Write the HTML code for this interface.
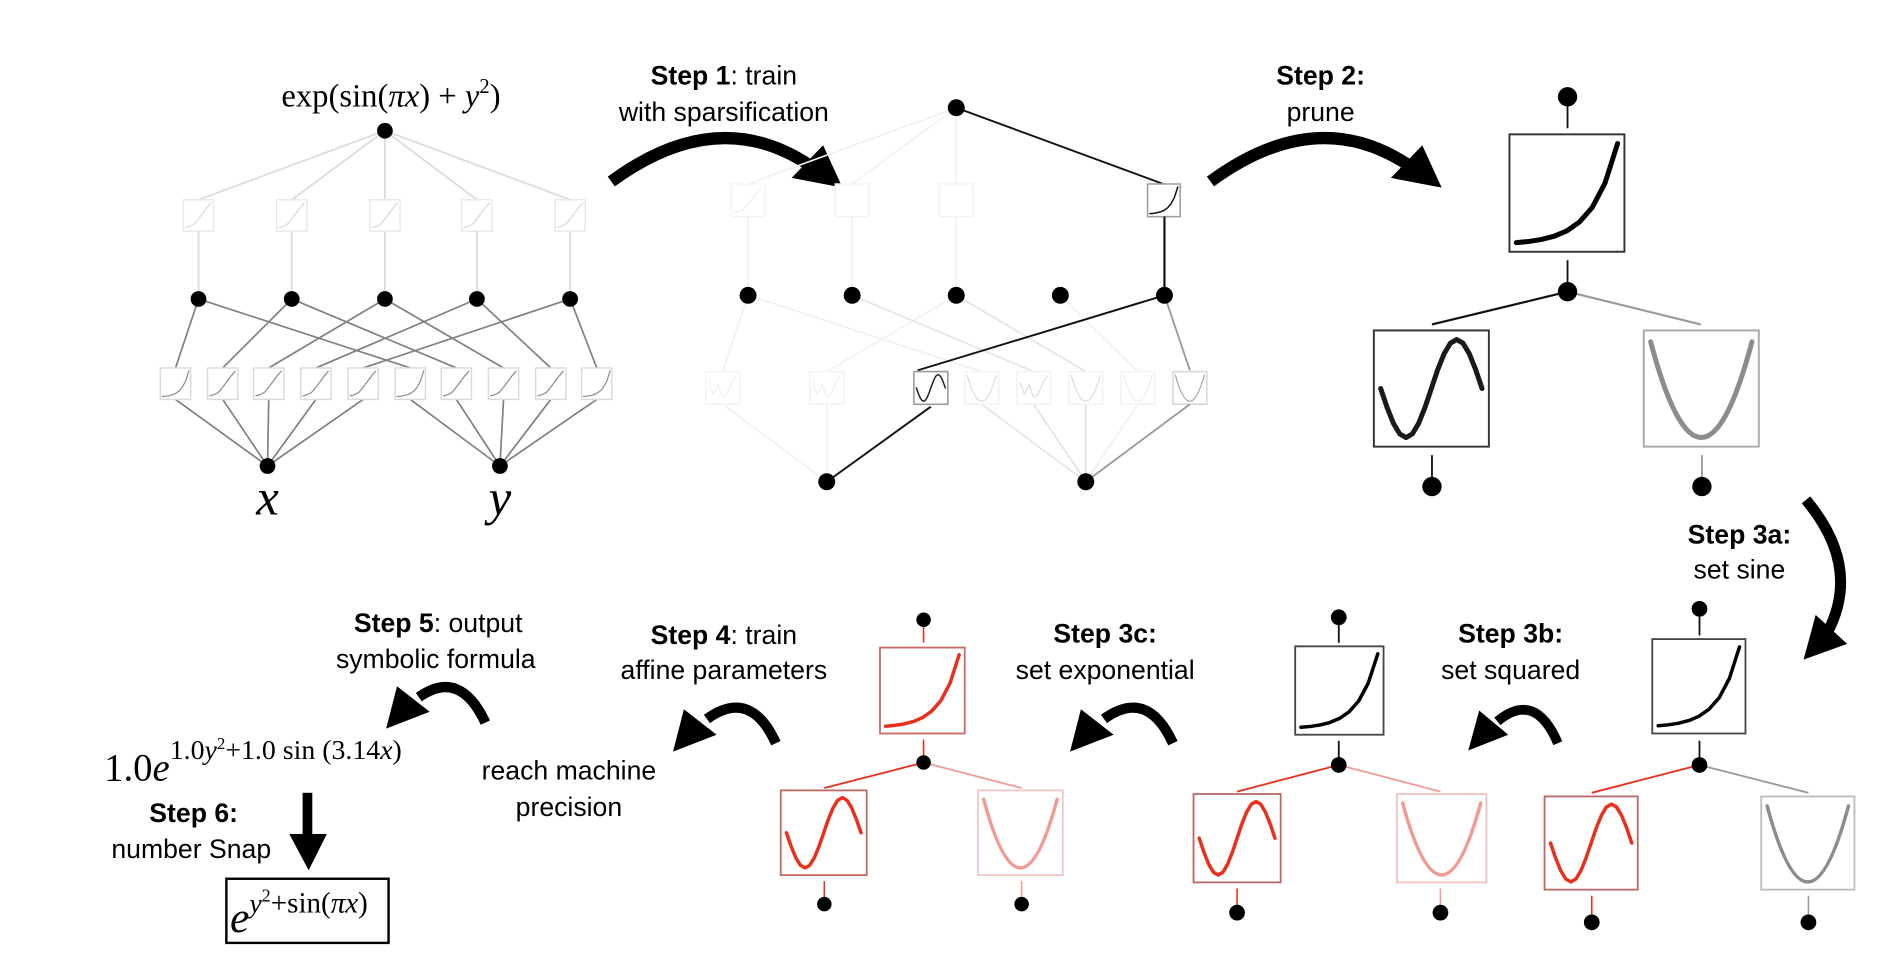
<!DOCTYPE html>
<html><head><meta charset="utf-8"><style>
html,body{margin:0;padding:0;background:#fff;}
svg{display:block;}
.t{font-family:"Liberation Sans",Arial,sans-serif;font-size:22px;fill:#000;text-anchor:middle;}
.b{font-weight:bold;}
.m{font-family:"Liberation Serif","Times New Roman",serif;fill:#000;}
</style></head><body>
<svg width="1898" height="978" viewBox="0 0 1568 808" preserveAspectRatio="none" xmlns="http://www.w3.org/2000/svg">
<defs>
<symbol id="exp" viewBox="0 0 100 100" preserveAspectRatio="none"><polyline vector-effect="non-scaling-stroke" fill="none" stroke-linecap="round" stroke-linejoin="round" points="4,94 15.5,93 27,91.2 38.5,88.3 50,83.5 61.5,75.6 73,62.7 84.5,41.3 96,6"/></symbol>
<symbol id="lin" viewBox="0 0 100 100" preserveAspectRatio="none"><polyline vector-effect="non-scaling-stroke" fill="none" points="4,92 20,88 35,80 50,62 65,42 80,22 94,6"/></symbol>
<symbol id="sin" viewBox="0 0 100 100" preserveAspectRatio="none"><polyline vector-effect="non-scaling-stroke" fill="none" stroke-linecap="round" stroke-linejoin="round" points="4,50 9.75,66.9 15.5,81.1 21.25,90.7 27,94 32.75,90.7 38.5,81.1 44.25,66.9 50,50 55.75,33.1 61.5,18.9 67.25,9.3 73,6 78.75,9.3 84.5,18.9 90.25,33.1 96,50"/></symbol>
<symbol id="par" viewBox="0 0 100 100" preserveAspectRatio="none"><path vector-effect="non-scaling-stroke" fill="none" stroke-linecap="round" d="M4,8 Q50,180 96,8"/></symbol>
<symbol id="wig" viewBox="0 0 100 100" preserveAspectRatio="none"><polyline vector-effect="non-scaling-stroke" fill="none" points="6,30 20,70 35,40 50,80 65,70 80,30 94,10"/></symbol>
</defs>

<!-- ===== Panel 1 ===== -->
<text class="m" x="323" y="88" font-size="27" text-anchor="middle">exp(sin(<tspan font-style="italic">πx</tspan>) + <tspan font-style="italic">y</tspan><tspan font-size="17" dy="-11">2</tspan><tspan dy="11">)</tspan></text>
<g stroke="#dcdcdc" stroke-width="1.5">
<line x1="318" y1="108" x2="164" y2="165"/><line x1="318" y1="108" x2="241" y2="165"/><line x1="318" y1="108" x2="318" y2="165"/><line x1="318" y1="108" x2="394" y2="165"/><line x1="318" y1="108" x2="471" y2="165"/>
<line x1="164" y1="191" x2="164" y2="247"/><line x1="241" y1="191" x2="241" y2="247"/><line x1="318" y1="191" x2="318" y2="247"/><line x1="394" y1="191" x2="394" y2="247"/><line x1="471" y1="191" x2="471" y2="247"/>
</g>
<g fill="#fff" stroke="#e8e8e8" stroke-width="1.2">
<rect x="151.5" y="165" width="25" height="26"/><rect x="228.5" y="165" width="25" height="26"/><rect x="305.5" y="165" width="25" height="26"/><rect x="381.5" y="165" width="25" height="26"/><rect x="458.5" y="165" width="25" height="26"/>
</g>
<g stroke="#d8d8d8" stroke-width="1.2">
<use href="#lin" x="152" y="166" width="24" height="24"/><use href="#lin" x="229" y="166" width="24" height="24"/><use href="#lin" x="306" y="166" width="24" height="24"/><use href="#lin" x="382" y="166" width="24" height="24"/><use href="#lin" x="459" y="166" width="24" height="24"/>
</g>
<g stroke="#808080" stroke-width="1.4">
<line x1="164" y1="247" x2="145" y2="304"/><line x1="164" y1="247" x2="339" y2="304"/>
<line x1="241" y1="247" x2="184" y2="304"/><line x1="241" y1="247" x2="377" y2="304"/>
<line x1="318" y1="247" x2="222" y2="304"/><line x1="318" y1="247" x2="416" y2="304"/>
<line x1="394" y1="247" x2="261" y2="304"/><line x1="394" y1="247" x2="455" y2="304"/>
<line x1="471" y1="247" x2="300" y2="304"/><line x1="471" y1="247" x2="493" y2="304"/>
<line x1="145" y1="330" x2="221" y2="385"/><line x1="184" y1="330" x2="221" y2="385"/><line x1="222" y1="330" x2="221" y2="385"/><line x1="261" y1="330" x2="221" y2="385"/><line x1="300" y1="330" x2="221" y2="385"/>
<line x1="339" y1="330" x2="413" y2="385"/><line x1="377" y1="330" x2="413" y2="385"/><line x1="416" y1="330" x2="413" y2="385"/><line x1="455" y1="330" x2="413" y2="385"/><line x1="493" y1="330" x2="413" y2="385"/>
</g>
<g fill="#fff" stroke="#dadada" stroke-width="1.2">
<rect x="132.5" y="304" width="25" height="26"/><rect x="171.5" y="304" width="25" height="26"/><rect x="209.5" y="304" width="25" height="26"/><rect x="248.5" y="304" width="25" height="26"/><rect x="287.5" y="304" width="25" height="26"/>
<rect x="326.5" y="304" width="25" height="26"/><rect x="364.5" y="304" width="25" height="26"/><rect x="403.5" y="304" width="25" height="26"/><rect x="442.5" y="304" width="25" height="26"/><rect x="480.5" y="304" width="25" height="26"/>
</g>
<g stroke="#8a8a8a" stroke-width="1.2">
<use href="#exp" x="133" y="305" width="24" height="24"/><use href="#lin" x="172" y="305" width="24" height="24"/><use href="#lin" x="210" y="305" width="24" height="24"/><use href="#lin" x="249" y="305" width="24" height="24"/><use href="#lin" x="288" y="305" width="24" height="24"/>
<use href="#exp" x="327" y="305" width="24" height="24"/><use href="#lin" x="365" y="305" width="24" height="24"/><use href="#lin" x="404" y="305" width="24" height="24"/><use href="#lin" x="443" y="305" width="24" height="24"/><use href="#exp" x="481" y="305" width="24" height="24"/>
</g>
<g fill="#000">
<circle cx="318" cy="108" r="6.5"/>
<circle cx="164" cy="247" r="6.5"/><circle cx="241" cy="247" r="6.5"/><circle cx="318" cy="247" r="6.5"/><circle cx="394" cy="247" r="6.5"/><circle cx="471" cy="247" r="6.5"/>
<circle cx="221" cy="385" r="6.5"/><circle cx="413" cy="385" r="6.5"/>
</g>
<text class="m" x="221" y="425" font-size="42" font-style="italic" text-anchor="middle">x</text>
<text class="m" x="413" y="425" font-size="42" font-style="italic" text-anchor="middle">y</text>

<!-- Step 1 -->
<text class="t" x="598" y="70"><tspan class="b">Step 1</tspan>: train</text>
<text class="t" x="598" y="100">with sparsification</text>
<path d="M505,150 Q592,86 668,136" fill="none" stroke="#000" stroke-width="10"/>
<polygon points="696,155 680,120 654,147" fill="#000"/>

<!-- ===== Panel 2 ===== -->
<g stroke="#f0f0f0" stroke-width="1.3">
<line x1="790" y1="89" x2="618" y2="152"/><line x1="790" y1="89" x2="704" y2="152"/><line x1="790" y1="89" x2="790" y2="152"/>
<line x1="618" y1="179" x2="618" y2="244"/><line x1="704" y1="179" x2="704" y2="244"/><line x1="790" y1="179" x2="790" y2="244"/>
<line x1="618" y1="244" x2="597" y2="307"/><line x1="618" y1="244" x2="811" y2="307"/>
<line x1="790" y1="244" x2="683" y2="307"/><line x1="876" y1="244" x2="940" y2="307"/>
<line x1="597" y1="334" x2="683" y2="398"/><line x1="683" y1="334" x2="683" y2="398"/>
<line x1="940" y1="334" x2="897" y2="398"/>
</g>
<g stroke="#e2e2e2" stroke-width="1.3">
<line x1="704" y1="244" x2="854" y2="307"/><line x1="790" y1="244" x2="897" y2="307"/>
<line x1="811" y1="334" x2="897" y2="398"/><line x1="854" y1="334" x2="897" y2="398"/><line x1="897" y1="334" x2="897" y2="398"/>
</g>
<g fill="#fff" stroke="#f2f2f2" stroke-width="1.2">
<rect x="604" y="152" width="28" height="27"/><rect x="690" y="152" width="28" height="27"/><rect x="776" y="152" width="28" height="27"/>
<rect x="583" y="307" width="28" height="27"/><rect x="669" y="307" width="28" height="27"/>
<rect x="797" y="307" width="28" height="27"/><rect x="840" y="307" width="28" height="27"/><rect x="883" y="307" width="28" height="27"/><rect x="926" y="307" width="28" height="27"/>
</g>
<g stroke="#eeeeee" stroke-width="1.2">
<use href="#lin" x="605" y="153" width="26" height="25"/><use href="#wig" x="584" y="308" width="26" height="25"/><use href="#wig" x="670" y="308" width="26" height="25"/><use href="#par" x="927" y="308" width="26" height="25"/>
</g>
<g stroke="#dcdcdc" stroke-width="1.2">
<use href="#par" x="798" y="308" width="26" height="25"/><use href="#wig" x="841" y="308" width="26" height="25"/><use href="#par" x="884" y="308" width="26" height="25"/>
</g>
<line x1="790" y1="89" x2="961" y2="152" stroke="#111" stroke-width="1.6"/>
<rect x="948" y="152" width="27" height="27" fill="#fff" stroke="#a0a0a0" stroke-width="1.3"/>
<use href="#exp" x="949" y="153" width="25" height="25" stroke="#111" stroke-width="1.5"/>
<line x1="962" y1="179" x2="962" y2="244" stroke="#111" stroke-width="1.8"/>
<line x1="962" y1="244" x2="758" y2="306" stroke="#111" stroke-width="1.6"/>
<rect x="755" y="307" width="28" height="27" fill="#fff" stroke="#999" stroke-width="1.3"/>
<use href="#sin" x="756" y="308" width="26" height="25" stroke="#222" stroke-width="1.5"/>
<line x1="769" y1="336" x2="683" y2="398" stroke="#111" stroke-width="1.6"/>
<line x1="962" y1="244" x2="983" y2="306" stroke="#999" stroke-width="1.5"/>
<rect x="969" y="307" width="28" height="27" fill="#fff" stroke="#d4d4d4" stroke-width="1.2"/>
<use href="#par" x="970" y="308" width="26" height="25" stroke="#aaa" stroke-width="1.3"/>
<line x1="983" y1="334" x2="897" y2="398" stroke="#999" stroke-width="1.5"/>
<g fill="#000">
<circle cx="790" cy="89" r="7"/>
<circle cx="618" cy="244" r="7"/><circle cx="704" cy="244" r="7"/><circle cx="790" cy="244" r="7"/><circle cx="876" cy="244" r="7"/><circle cx="962" cy="244" r="7"/>
<circle cx="683" cy="398" r="7"/><circle cx="897" cy="398" r="7"/>
</g>

<!-- Step 2 -->
<text class="t b" x="1091" y="70">Step 2:</text>
<text class="t" x="1091" y="100">prune</text>
<path d="M1000,150 Q1087,86 1163,136" fill="none" stroke="#000" stroke-width="10"/>
<polygon points="1191,155 1175,120 1149,147" fill="#000"/>

<!-- ===== Panel 3 ===== -->
<line x1="1295" y1="80" x2="1295" y2="106" stroke="#111" stroke-width="1.5"/>
<rect x="1247" y="111" width="95" height="97" fill="#fff" stroke="#333" stroke-width="1.6"/>
<use href="#exp" x="1249" y="113" width="91" height="93" stroke="#000" stroke-width="5"/>
<line x1="1295" y1="215" x2="1295" y2="241" stroke="#111" stroke-width="1.5"/>
<line x1="1295" y1="241" x2="1183" y2="268" stroke="#111" stroke-width="1.8"/>
<line x1="1295" y1="241" x2="1405" y2="268" stroke="#999" stroke-width="1.8"/>
<rect x="1135" y="273" width="95" height="96" fill="#fff" stroke="#333" stroke-width="1.6"/>
<use href="#sin" x="1137" y="275" width="91" height="92" stroke="#1a1a1a" stroke-width="5"/>
<rect x="1358" y="273" width="95" height="96" fill="#fff" stroke="#aaa" stroke-width="1.6"/>
<use href="#par" x="1360" y="275" width="91" height="92" stroke="#8c8c8c" stroke-width="5"/>
<line x1="1183" y1="376" x2="1183" y2="402" stroke="#111" stroke-width="1.5"/>
<line x1="1406" y1="376" x2="1406" y2="402" stroke="#999" stroke-width="1.5"/>
<g fill="#000"><circle cx="1295" cy="80" r="8"/><circle cx="1295" cy="241" r="8"/><circle cx="1183" cy="402" r="8"/><circle cx="1406" cy="402" r="8"/></g>

<!-- Step 3a -->
<text class="t b" x="1437" y="449">Step 3a:</text>
<text class="t" x="1437" y="478">set sine</text>
<path d="M1492,413 Q1538,468 1510,522" fill="none" stroke="#000" stroke-width="9"/>
<polygon points="1490,545 1500,508 1526,532" fill="#000"/>

<!-- ===== Panel A (bottom right) ===== -->
<line x1="1404" y1="503" x2="1404" y2="525" stroke="#111" stroke-width="1.5"/>
<rect x="1365" y="528" width="77" height="78" fill="#fff" stroke="#444" stroke-width="1.5"/>
<use href="#exp" x="1367" y="530" width="73" height="74" stroke="#000" stroke-width="3.5"/>
<line x1="1404" y1="612" x2="1404" y2="632" stroke="#111" stroke-width="1.5"/>
<line x1="1404" y1="632" x2="1315" y2="655" stroke="#e8301c" stroke-width="1.5"/>
<line x1="1404" y1="632" x2="1494" y2="655" stroke="#999" stroke-width="1.5"/>
<rect x="1276" y="658" width="77" height="77" fill="#fff" stroke="#b86a66" stroke-width="1.5"/>
<use href="#sin" x="1278" y="660" width="73" height="73" stroke="#e8301c" stroke-width="3.5"/>
<rect x="1455" y="658" width="77" height="77" fill="#fff" stroke="#bbb" stroke-width="1.5"/>
<use href="#par" x="1457" y="660" width="73" height="73" stroke="#8c8c8c" stroke-width="3.5"/>
<line x1="1315" y1="740" x2="1315" y2="762" stroke="#e8301c" stroke-width="1.3"/>
<line x1="1494" y1="740" x2="1494" y2="762" stroke="#999" stroke-width="1.3"/>
<g fill="#000"><circle cx="1404" cy="503" r="6.5"/><circle cx="1404" cy="632" r="6.5"/><circle cx="1315" cy="762" r="6.5"/><circle cx="1494" cy="762" r="6.5"/></g>

<!-- Step 3b -->
<text class="t b" x="1248" y="531">Step 3b:</text>
<text class="t" x="1248" y="561">set squared</text>
<path d="M1287,614 Q1268,570 1237,596" fill="none" stroke="#000" stroke-width="8"/>
<polygon points="1213,620 1222,587 1246,607" fill="#000"/>

<!-- ===== Panel B ===== -->
<line x1="1106" y1="510" x2="1106" y2="531" stroke="#111" stroke-width="1.5"/>
<rect x="1070" y="534" width="73" height="73" fill="#fff" stroke="#444" stroke-width="1.5"/>
<use href="#exp" x="1072" y="536" width="69" height="69" stroke="#000" stroke-width="3.5"/>
<line x1="1106" y1="612" x2="1106" y2="632" stroke="#111" stroke-width="1.5"/>
<line x1="1106" y1="632" x2="1022" y2="654" stroke="#e8301c" stroke-width="1.5"/>
<line x1="1106" y1="632" x2="1190" y2="654" stroke="#f39a94" stroke-width="1.5"/>
<rect x="986" y="656" width="72" height="73" fill="#fff" stroke="#b86a66" stroke-width="1.5"/>
<use href="#sin" x="988" y="658" width="68" height="69" stroke="#e8301c" stroke-width="3.5"/>
<rect x="1154" y="656" width="74" height="73" fill="#fff" stroke="#f0c0c0" stroke-width="1.5"/>
<use href="#par" x="1156" y="658" width="70" height="69" stroke="#f29a96" stroke-width="3.5"/>
<line x1="1022" y1="734" x2="1022" y2="754" stroke="#e8301c" stroke-width="1.3"/>
<line x1="1190" y1="734" x2="1190" y2="754" stroke="#f39a94" stroke-width="1.3"/>
<g fill="#000"><circle cx="1106" cy="510" r="6.5"/><circle cx="1106" cy="632" r="6.5"/><circle cx="1022" cy="754" r="6.5"/><circle cx="1190" cy="754" r="6.5"/></g>

<!-- Step 3c -->
<text class="t b" x="913" y="531">Step 3c:</text>
<text class="t" x="913" y="561">set exponential</text>
<path d="M969,614 Q948,568 912,594" fill="none" stroke="#000" stroke-width="8.5"/>
<polygon points="884,621 893,586 920,607" fill="#000"/>

<!-- ===== Panel C ===== -->
<line x1="763" y1="512" x2="763" y2="531" stroke="#e8301c" stroke-width="1.3"/>
<rect x="727" y="535" width="70" height="71" fill="#fff" stroke="#c86a62" stroke-width="1.5"/>
<use href="#exp" x="729" y="537" width="66" height="67" stroke="#e8301c" stroke-width="3.5"/>
<line x1="763" y1="611" x2="763" y2="630" stroke="#e8301c" stroke-width="1.3"/>
<line x1="763" y1="630" x2="681" y2="651" stroke="#e8301c" stroke-width="1.5"/>
<line x1="763" y1="630" x2="844" y2="651" stroke="#f39a94" stroke-width="1.5"/>
<rect x="645" y="653" width="71" height="70" fill="#fff" stroke="#c06a66" stroke-width="1.5"/>
<use href="#sin" x="647" y="655" width="67" height="66" stroke="#e8301c" stroke-width="3.5"/>
<rect x="808" y="653" width="70" height="70" fill="#fff" stroke="#f3c6c6" stroke-width="1.5"/>
<use href="#par" x="810" y="655" width="66" height="66" stroke="#f29a96" stroke-width="3.5"/>
<line x1="681" y1="728" x2="681" y2="747" stroke="#e8301c" stroke-width="1.3"/>
<line x1="844" y1="728" x2="844" y2="747" stroke="#f39a94" stroke-width="1.3"/>
<g fill="#000"><circle cx="763" cy="512" r="6"/><circle cx="763" cy="630" r="6"/><circle cx="681" cy="747" r="6"/><circle cx="844" cy="747" r="6"/></g>

<!-- Step 4 -->
<text class="t" x="598" y="532"><tspan class="b">Step 4</tspan>: train</text>
<text class="t" x="598" y="561">affine parameters</text>
<path d="M641,614 Q620,568 584,594" fill="none" stroke="#000" stroke-width="8.5"/>
<polygon points="556,621 565,586 592,607" fill="#000"/>
<text class="t" x="470" y="644">reach machine</text>
<text class="t" x="470" y="674">precision</text>

<!-- Step 5 -->
<text class="t" x="362" y="522"><tspan class="b">Step 5</tspan>: output</text>
<text class="t" x="360" y="552">symbolic formula</text>
<path d="M401,597 Q380,552 346,576" fill="none" stroke="#000" stroke-width="8.5"/>
<polygon points="319,602 328,567 355,588" fill="#000"/>
<text class="m" x="86" y="645" font-size="32" fill="#222">1.0<tspan font-style="italic">e</tspan><tspan font-size="23" dy="-18">1.0<tspan font-style="italic">y</tspan><tspan font-size="14" dy="-8">2</tspan><tspan dy="8">+1.0 sin (3.14<tspan font-style="italic">x</tspan>)</tspan></tspan></text>

<!-- Step 6 -->
<text class="t b" x="160" y="679">Step 6:</text>
<text class="t" x="158" y="709">number Snap</text>
<rect x="250" y="655" width="8" height="36" fill="#000"/>
<polygon points="239,689 270,689 255,719" fill="#000"/>
<rect x="187" y="726" width="134" height="53" fill="#fff" stroke="#000" stroke-width="2"/>
<text class="m" x="190" y="770" font-size="36" font-style="italic">e<tspan font-size="23" dy="-16">y</tspan><tspan font-size="15" font-style="normal" dy="-9">2</tspan><tspan font-size="24" font-style="normal" dy="9">+sin(<tspan font-style="italic">πx</tspan>)</tspan></text>
</svg>
</body></html>
